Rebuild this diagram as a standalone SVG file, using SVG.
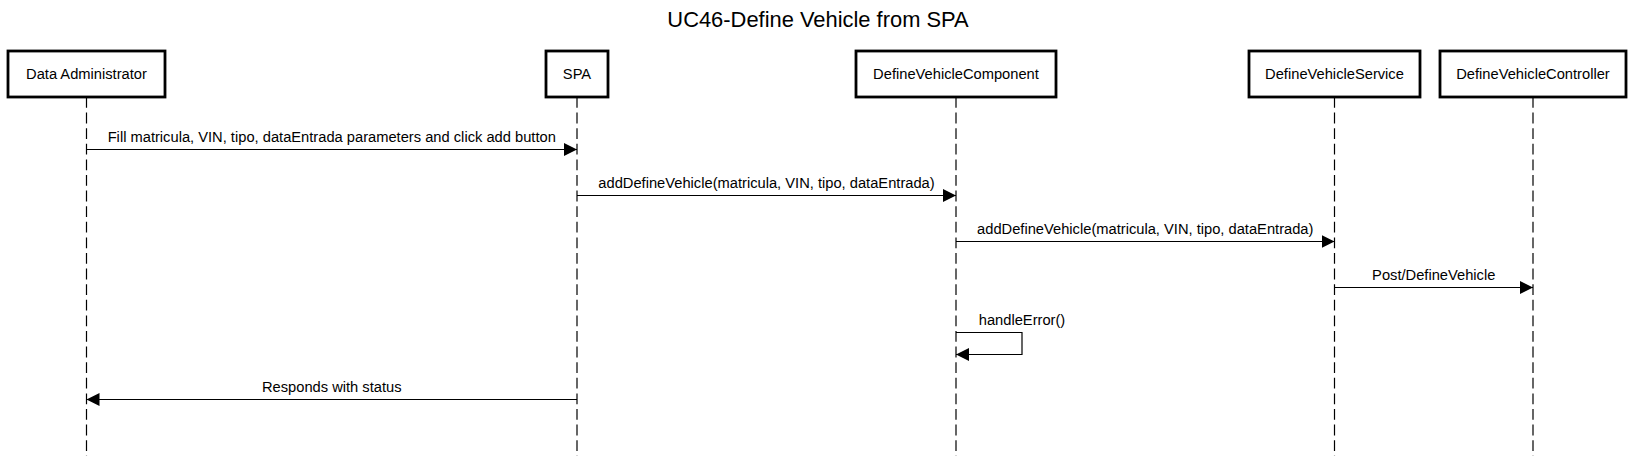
<svg xmlns="http://www.w3.org/2000/svg" width="1636" height="456" viewBox="0 0 1636 456">
<style>
text{font-family:"Liberation Sans",Arial,sans-serif;fill:#000}
.title{font-size:21.9px;text-anchor:middle}
.lbl{font-size:14.7px;text-anchor:middle}
.box{fill:#fff;stroke:#000;stroke-width:2.8}
.life{stroke:#000;stroke-width:1.2;stroke-dasharray:10.8 4.8;fill:none}
.msg{stroke:#000;stroke-width:1.2;fill:none;marker-end:url(#arr)}
</style>
<defs>
<marker id="arr" markerUnits="userSpaceOnUse" markerWidth="14" markerHeight="13" refX="13" refY="6.5" orient="auto">
<path d="M0,0 L13,6.5 L0,13 Z" fill="#000"/>
</marker>
</defs>
<rect width="1636" height="456" fill="#fff"/>
<text class="title" x="818" y="27">UC46-Define Vehicle from SPA</text>
<g id="lifelines">
<line class="life" x1="86.5" y1="97" x2="86.5" y2="456"/>
<line class="life" x1="577" y1="97" x2="577" y2="456"/>
<line class="life" x1="956" y1="97" x2="956" y2="456"/>
<line class="life" x1="1334.5" y1="97" x2="1334.5" y2="456"/>
<line class="life" x1="1533" y1="97" x2="1533" y2="456"/>
</g>
<g id="node-data-administrator">
<rect class="box" x="8" y="51" width="157" height="46"/>
<text class="lbl" x="86.5" y="79">Data Administrator</text>
</g>
<g id="node-spa">
<rect class="box" x="546" y="51" width="62" height="46"/>
<text class="lbl" x="577" y="79">SPA</text>
</g>
<g id="node-component">
<rect class="box" x="856" y="51" width="200" height="46"/>
<text class="lbl" x="956" y="79">DefineVehicleComponent</text>
</g>
<g id="node-service">
<rect class="box" x="1249" y="51" width="171" height="46"/>
<text class="lbl" x="1334.5" y="79">DefineVehicleService</text>
</g>
<g id="node-controller">
<rect class="box" x="1440" y="51" width="186" height="46"/>
<text class="lbl" x="1533" y="79">DefineVehicleController</text>
</g>
<g id="connectors">
<line class="msg" x1="86.5" y1="149.5" x2="577" y2="149.5"/>
<text class="lbl" x="331.75" y="142">Fill matricula, VIN, tipo, dataEntrada parameters and click add button</text>
<line class="msg" x1="577" y1="195.5" x2="956" y2="195.5"/>
<text class="lbl" x="766.5" y="188">addDefineVehicle(matricula, VIN, tipo, dataEntrada)</text>
<line class="msg" x1="956" y1="241.5" x2="1334.5" y2="241.5"/>
<text class="lbl" x="1145.25" y="234">addDefineVehicle(matricula, VIN, tipo, dataEntrada)</text>
<line class="msg" x1="1334.5" y1="287.5" x2="1533" y2="287.5"/>
<text class="lbl" x="1433.75" y="280">Post/DefineVehicle</text>
<polyline class="msg" points="956,332.5 1022,332.5 1022,354.5 956,354.5"/>
<text class="lbl" x="1022" y="325">handleError()</text>
<line class="msg" x1="577" y1="399.5" x2="86.5" y2="399.5"/>
<text class="lbl" x="331.75" y="392">Responds with status</text>
</g>
</svg>
